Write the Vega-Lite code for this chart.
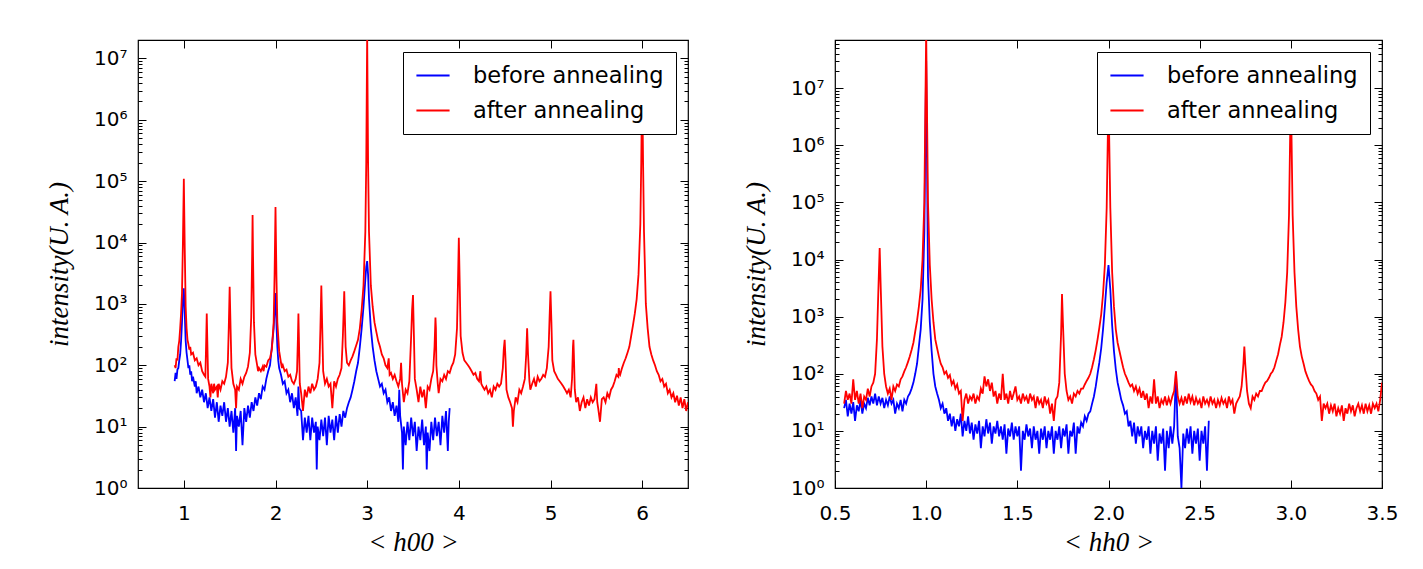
{
"$schema":"https://vega.github.io/schema/vega-lite/v6.json",
"background":"white",
"padding":{"left":44,"top":29,"right":10,"bottom":10},
"spacing":51,
"config":{
 "view":{"stroke":"#000","strokeWidth":1.2},
 "axis":{"domain":false,"grid":false,"tickColor":"#000","tickWidth":1,"labelFont":"DejaVu Sans","labelFontSize":20,"labelColor":"#000","labelFlush":false,"labelOverlap":false,"titleFont":"Liberation Serif","titleFontStyle":"italic","titleFontWeight":"normal","titleFontSize":27,"titleColor":"#000"},
 "legend":{"orient":"top-right","offset":12,"title":null,"labelFont":"DejaVu Sans","labelFontSize":22.5,"labelColor":"#000","labelLimit":0,"symbolType":"stroke","symbolStrokeWidth":2,"symbolSize":1100,"strokeColor":"#000","fillColor":"#fff","padding":12,"labelOffset":22,"rowPadding":12,"clipHeight":23,"cornerRadius":0}
},
"resolve":{"legend":{"color":"independent"}},
"datasets":{
"aL":[{"h":0.90,"i":100},{"h":0.91,"i":90},{"h":0.92,"i":130},{"h":0.93,"i":120},{"h":0.94,"i":200},{"h":0.95,"i":250},{"h":0.96,"i":400},{"h":0.97,"i":700},{"h":0.98,"i":1500},{"h":0.99,"i":10000},{"h":1.0,"i":110000},{"h":1.01,"i":8000},{"h":1.02,"i":900},{"h":1.03,"i":400},{"h":1.04,"i":260},{"h":1.05,"i":220},{"h":1.06,"i":180},{"h":1.07,"i":200},{"h":1.08,"i":150},{"h":1.10,"i":160},{"h":1.12,"i":120},{"h":1.14,"i":130},{"h":1.16,"i":100},{"h":1.18,"i":110},{"h":1.20,"i":80},{"h":1.22,"i":70},{"h":1.235,"i":65},{"h":1.245,"i":300},{"h":1.25,"i":700},{"h":1.255,"i":300},{"h":1.265,"i":60},{"h":1.28,"i":45},{"h":1.29,"i":30},{"h":1.30,"i":50},{"h":1.32,"i":35},{"h":1.33,"i":50},{"h":1.34,"i":40},{"h":1.36,"i":45},{"h":1.37,"i":30},{"h":1.38,"i":50},{"h":1.40,"i":40},{"h":1.42,"i":55},{"h":1.44,"i":50},{"h":1.46,"i":65},{"h":1.48,"i":110},{"h":1.49,"i":400},{"h":1.50,"i":1900},{"h":1.51,"i":400},{"h":1.52,"i":90},{"h":1.54,"i":50},{"h":1.56,"i":40},{"h":1.57,"i":20},{"h":1.58,"i":45},{"h":1.60,"i":40},{"h":1.62,"i":60},{"h":1.64,"i":50},{"h":1.66,"i":65},{"h":1.68,"i":75},{"h":1.70,"i":95},{"h":1.72,"i":160},{"h":1.735,"i":600},{"h":1.745,"i":6000},{"h":1.75,"i":28000},{"h":1.755,"i":6000},{"h":1.765,"i":500},{"h":1.78,"i":150},{"h":1.80,"i":100},{"h":1.81,"i":80},{"h":1.82,"i":90},{"h":1.84,"i":80},{"h":1.86,"i":95},{"h":1.87,"i":80},{"h":1.88,"i":100},{"h":1.90,"i":95},{"h":1.92,"i":120},{"h":1.94,"i":130},{"h":1.96,"i":180},{"h":1.98,"i":500},{"h":1.99,"i":3000},{"h":2.0,"i":38000},{"h":2.01,"i":3000},{"h":2.02,"i":500},{"h":2.04,"i":170},{"h":2.06,"i":110},{"h":2.07,"i":90},{"h":2.08,"i":100},{"h":2.10,"i":80},{"h":2.12,"i":85},{"h":2.14,"i":65},{"h":2.16,"i":70},{"h":2.18,"i":55},{"h":2.20,"i":50},{"h":2.22,"i":60},{"h":2.235,"i":80},{"h":2.245,"i":300},{"h":2.25,"i":700},{"h":2.255,"i":300},{"h":2.265,"i":50},{"h":2.28,"i":35},{"h":2.30,"i":18},{"h":2.32,"i":40},{"h":2.34,"i":30},{"h":2.36,"i":45},{"h":2.38,"i":35},{"h":2.40,"i":50},{"h":2.42,"i":40},{"h":2.44,"i":45},{"h":2.46,"i":60},{"h":2.48,"i":110},{"h":2.49,"i":400},{"h":2.50,"i":2000},{"h":2.51,"i":400},{"h":2.52,"i":80},{"h":2.54,"i":50},{"h":2.56,"i":60},{"h":2.58,"i":45},{"h":2.60,"i":50},{"h":2.62,"i":20},{"h":2.64,"i":55},{"h":2.66,"i":45},{"h":2.68,"i":60},{"h":2.70,"i":70},{"h":2.72,"i":90},{"h":2.735,"i":300},{"h":2.745,"i":900},{"h":2.75,"i":1600},{"h":2.755,"i":800},{"h":2.765,"i":200},{"h":2.78,"i":110},{"h":2.80,"i":100},{"h":2.82,"i":120},{"h":2.84,"i":140},{"h":2.86,"i":170},{"h":2.88,"i":210},{"h":2.90,"i":260},{"h":2.92,"i":400},{"h":2.94,"i":800},{"h":2.96,"i":2000},{"h":2.98,"i":15000},{"h":2.99,"i":200000},{"h":3.0,"i":25000000},{"h":3.01,"i":200000},{"h":3.02,"i":15000},{"h":3.04,"i":2000},{"h":3.06,"i":900},{"h":3.08,"i":500},{"h":3.10,"i":350},{"h":3.12,"i":250},{"h":3.14,"i":200},{"h":3.16,"i":150},{"h":3.18,"i":130},{"h":3.20,"i":100},{"h":3.22,"i":90},{"h":3.235,"i":130},{"h":3.245,"i":70},{"h":3.26,"i":75},{"h":3.28,"i":60},{"h":3.30,"i":70},{"h":3.32,"i":55},{"h":3.34,"i":45},{"h":3.36,"i":60},{"h":3.37,"i":110},{"h":3.38,"i":50},{"h":3.40,"i":25},{"h":3.42,"i":40},{"h":3.44,"i":35},{"h":3.46,"i":55},{"h":3.48,"i":300},{"h":3.49,"i":800},{"h":3.50,"i":1400},{"h":3.51,"i":300},{"h":3.52,"i":60},{"h":3.54,"i":40},{"h":3.56,"i":25},{"h":3.58,"i":45},{"h":3.60,"i":30},{"h":3.62,"i":40},{"h":3.64,"i":20},{"h":3.66,"i":45},{"h":3.68,"i":40},{"h":3.70,"i":60},{"h":3.72,"i":80},{"h":3.735,"i":200},{"h":3.745,"i":600},{"h":3.75,"i":400},{"h":3.755,"i":100},{"h":3.77,"i":50},{"h":3.78,"i":35},{"h":3.80,"i":60},{"h":3.82,"i":55},{"h":3.84,"i":70},{"h":3.86,"i":60},{"h":3.88,"i":80},{"h":3.90,"i":75},{"h":3.92,"i":95},{"h":3.94,"i":110},{"h":3.96,"i":150},{"h":3.98,"i":400},{"h":3.99,"i":2000},{"h":4.0,"i":12000},{"h":4.01,"i":2000},{"h":4.02,"i":300},{"h":4.04,"i":160},{"h":4.06,"i":120},{"h":4.08,"i":110},{"h":4.10,"i":100},{"h":4.12,"i":90},{"h":4.14,"i":80},{"h":4.16,"i":70},{"h":4.18,"i":75},{"h":4.20,"i":60},{"h":4.22,"i":55},{"h":4.235,"i":80},{"h":4.245,"i":50},{"h":4.26,"i":45},{"h":4.28,"i":40},{"h":4.30,"i":45},{"h":4.32,"i":35},{"h":4.34,"i":40},{"h":4.36,"i":30},{"h":4.38,"i":45},{"h":4.40,"i":40},{"h":4.42,"i":50},{"h":4.44,"i":45},{"h":4.46,"i":50},{"h":4.48,"i":90},{"h":4.49,"i":180},{"h":4.50,"i":260},{"h":4.51,"i":120},{"h":4.52,"i":40},{"h":4.54,"i":30},{"h":4.56,"i":25},{"h":4.58,"i":20},{"h":4.59,"i":10},{"h":4.60,"i":18},{"h":4.62,"i":30},{"h":4.64,"i":25},{"h":4.66,"i":40},{"h":4.68,"i":35},{"h":4.70,"i":45},{"h":4.72,"i":60},{"h":4.735,"i":150},{"h":4.745,"i":400},{"h":4.755,"i":150},{"h":4.77,"i":55},{"h":4.78,"i":40},{"h":4.80,"i":50},{"h":4.82,"i":60},{"h":4.84,"i":45},{"h":4.86,"i":65},{"h":4.88,"i":55},{"h":4.90,"i":60},{"h":4.92,"i":70},{"h":4.94,"i":65},{"h":4.96,"i":90},{"h":4.98,"i":200},{"h":4.99,"i":600},{"h":5.0,"i":1600},{"h":5.01,"i":500},{"h":5.02,"i":120},{"h":5.04,"i":80},{"h":5.06,"i":70},{"h":5.08,"i":60},{"h":5.10,"i":55},{"h":5.12,"i":50},{"h":5.14,"i":45},{"h":5.16,"i":40},{"h":5.18,"i":35},{"h":5.20,"i":40},{"h":5.22,"i":30},{"h":5.235,"i":60},{"h":5.245,"i":200},{"h":5.25,"i":260},{"h":5.255,"i":150},{"h":5.265,"i":40},{"h":5.28,"i":25},{"h":5.30,"i":30},{"h":5.32,"i":18},{"h":5.34,"i":25},{"h":5.36,"i":30},{"h":5.38,"i":20},{"h":5.40,"i":28},{"h":5.42,"i":22},{"h":5.44,"i":30},{"h":5.46,"i":25},{"h":5.48,"i":28},{"h":5.50,"i":50},{"h":5.51,"i":25},{"h":5.52,"i":20},{"h":5.54,"i":12},{"h":5.56,"i":28},{"h":5.58,"i":30},{"h":5.60,"i":25},{"h":5.62,"i":35},{"h":5.64,"i":30},{"h":5.66,"i":40},{"h":5.68,"i":45},{"h":5.70,"i":55},{"h":5.72,"i":70},{"h":5.74,"i":65},{"h":5.745,"i":90},{"h":5.75,"i":75},{"h":5.76,"i":70},{"h":5.78,"i":90},{"h":5.80,"i":110},{"h":5.82,"i":130},{"h":5.84,"i":160},{"h":5.86,"i":200},{"h":5.88,"i":300},{"h":5.90,"i":450},{"h":5.92,"i":700},{"h":5.94,"i":1200},{"h":5.96,"i":3000},{"h":5.98,"i":20000},{"h":5.99,"i":200000},{"h":6.0,"i":5000000},{"h":6.01,"i":200000},{"h":6.02,"i":15000},{"h":6.04,"i":1000},{"h":6.06,"i":400},{"h":6.08,"i":200},{"h":6.10,"i":150},{"h":6.12,"i":120},{"h":6.14,"i":100},{"h":6.16,"i":80},{"h":6.18,"i":70},{"h":6.20,"i":55},{"h":6.22,"i":60},{"h":6.24,"i":45},{"h":6.26,"i":50},{"h":6.28,"i":35},{"h":6.30,"i":40},{"h":6.32,"i":30},{"h":6.34,"i":35},{"h":6.36,"i":25},{"h":6.38,"i":32},{"h":6.40,"i":22},{"h":6.42,"i":30},{"h":6.44,"i":20},{"h":6.46,"i":28},{"h":6.48,"i":18},{"h":6.50,"i":25}],
"bL":[{"h":0.90,"i":55},{"h":0.91,"i":75},{"h":0.92,"i":60},{"h":0.93,"i":85},{"h":0.94,"i":90},{"h":0.95,"i":120},{"h":0.96,"i":150},{"h":0.97,"i":250},{"h":0.98,"i":500},{"h":0.99,"i":1200},{"h":1.0,"i":1800},{"h":1.01,"i":700},{"h":1.02,"i":250},{"h":1.03,"i":160},{"h":1.04,"i":120},{"h":1.05,"i":90},{"h":1.06,"i":100},{"h":1.07,"i":70},{"h":1.08,"i":80},{"h":1.09,"i":55},{"h":1.10,"i":65},{"h":1.12,"i":45},{"h":1.13,"i":55},{"h":1.14,"i":35},{"h":1.16,"i":45},{"h":1.18,"i":30},{"h":1.20,"i":40},{"h":1.22,"i":25},{"h":1.24,"i":35},{"h":1.26,"i":20},{"h":1.28,"i":30},{"h":1.30,"i":18},{"h":1.32,"i":28},{"h":1.34,"i":14},{"h":1.36,"i":25},{"h":1.38,"i":12},{"h":1.40,"i":22},{"h":1.42,"i":15},{"h":1.44,"i":25},{"h":1.46,"i":12},{"h":1.48,"i":20},{"h":1.50,"i":10},{"h":1.52,"i":18},{"h":1.54,"i":8},{"h":1.56,"i":20},{"h":1.57,"i":4},{"h":1.58,"i":15},{"h":1.60,"i":10},{"h":1.62,"i":18},{"h":1.64,"i":5},{"h":1.66,"i":20},{"h":1.68,"i":12},{"h":1.70,"i":22},{"h":1.72,"i":14},{"h":1.74,"i":25},{"h":1.76,"i":18},{"h":1.78,"i":30},{"h":1.80,"i":22},{"h":1.82,"i":35},{"h":1.84,"i":28},{"h":1.86,"i":45},{"h":1.88,"i":40},{"h":1.90,"i":60},{"h":1.92,"i":80},{"h":1.94,"i":100},{"h":1.96,"i":200},{"h":1.98,"i":400},{"h":1.99,"i":800},{"h":2.0,"i":1500},{"h":2.01,"i":500},{"h":2.02,"i":200},{"h":2.03,"i":120},{"h":2.04,"i":90},{"h":2.06,"i":70},{"h":2.08,"i":50},{"h":2.10,"i":55},{"h":2.12,"i":35},{"h":2.14,"i":40},{"h":2.16,"i":25},{"h":2.18,"i":35},{"h":2.20,"i":20},{"h":2.22,"i":30},{"h":2.24,"i":15},{"h":2.25,"i":45},{"h":2.26,"i":20},{"h":2.28,"i":18},{"h":2.30,"i":6},{"h":2.32,"i":14},{"h":2.34,"i":8},{"h":2.36,"i":15},{"h":2.38,"i":6},{"h":2.40,"i":14},{"h":2.42,"i":8},{"h":2.44,"i":12},{"h":2.45,"i":2},{"h":2.46,"i":10},{"h":2.48,"i":6},{"h":2.50,"i":13},{"h":2.52,"i":7},{"h":2.54,"i":14},{"h":2.56,"i":5},{"h":2.58,"i":15},{"h":2.60,"i":8},{"h":2.62,"i":13},{"h":2.64,"i":6},{"h":2.66,"i":15},{"h":2.68,"i":8},{"h":2.70,"i":16},{"h":2.72,"i":10},{"h":2.74,"i":18},{"h":2.76,"i":14},{"h":2.78,"i":20},{"h":2.80,"i":25},{"h":2.82,"i":30},{"h":2.84,"i":40},{"h":2.86,"i":55},{"h":2.88,"i":80},{"h":2.90,"i":110},{"h":2.92,"i":200},{"h":2.94,"i":400},{"h":2.96,"i":900},{"h":2.98,"i":2500},{"h":2.99,"i":4000},{"h":3.0,"i":5000},{"h":3.01,"i":3000},{"h":3.02,"i":1200},{"h":3.04,"i":400},{"h":3.06,"i":200},{"h":3.08,"i":120},{"h":3.10,"i":80},{"h":3.12,"i":60},{"h":3.14,"i":45},{"h":3.16,"i":50},{"h":3.18,"i":35},{"h":3.20,"i":40},{"h":3.22,"i":25},{"h":3.24,"i":30},{"h":3.26,"i":18},{"h":3.28,"i":25},{"h":3.30,"i":15},{"h":3.32,"i":22},{"h":3.34,"i":12},{"h":3.35,"i":40},{"h":3.36,"i":15},{"h":3.38,"i":8},{"h":3.39,"i":2},{"h":3.40,"i":10},{"h":3.42,"i":5},{"h":3.44,"i":12},{"h":3.46,"i":6},{"h":3.48,"i":14},{"h":3.50,"i":7},{"h":3.52,"i":12},{"h":3.54,"i":4},{"h":3.56,"i":10},{"h":3.58,"i":6},{"h":3.60,"i":13},{"h":3.62,"i":5},{"h":3.64,"i":10},{"h":3.65,"i":2},{"h":3.66,"i":8},{"h":3.68,"i":4},{"h":3.70,"i":12},{"h":3.72,"i":6},{"h":3.74,"i":14},{"h":3.76,"i":7},{"h":3.78,"i":12},{"h":3.80,"i":5},{"h":3.82,"i":15},{"h":3.84,"i":8},{"h":3.86,"i":18},{"h":3.88,"i":4},{"h":3.89,"i":12},{"h":3.90,"i":20}],
"aR":[{"h":0.55,"i":30},{"h":0.56,"i":50},{"h":0.57,"i":35},{"h":0.58,"i":45},{"h":0.59,"i":30},{"h":0.60,"i":80},{"h":0.61,"i":35},{"h":0.62,"i":50},{"h":0.63,"i":30},{"h":0.64,"i":45},{"h":0.65,"i":25},{"h":0.66,"i":40},{"h":0.67,"i":35},{"h":0.68,"i":55},{"h":0.69,"i":40},{"h":0.70,"i":60},{"h":0.71,"i":70},{"h":0.72,"i":100},{"h":0.73,"i":400},{"h":0.74,"i":5000},{"h":0.745,"i":16000},{"h":0.75,"i":4000},{"h":0.76,"i":300},{"h":0.77,"i":100},{"h":0.78,"i":60},{"h":0.79,"i":45},{"h":0.80,"i":55},{"h":0.81,"i":35},{"h":0.82,"i":60},{"h":0.83,"i":50},{"h":0.84,"i":65},{"h":0.85,"i":60},{"h":0.86,"i":80},{"h":0.87,"i":90},{"h":0.88,"i":110},{"h":0.89,"i":130},{"h":0.90,"i":160},{"h":0.91,"i":200},{"h":0.92,"i":260},{"h":0.93,"i":350},{"h":0.94,"i":550},{"h":0.95,"i":850},{"h":0.96,"i":1500},{"h":0.97,"i":3000},{"h":0.98,"i":10000},{"h":0.99,"i":100000},{"h":1.0,"i":100000000},{"h":1.01,"i":100000},{"h":1.02,"i":8000},{"h":1.03,"i":2000},{"h":1.04,"i":800},{"h":1.05,"i":400},{"h":1.06,"i":280},{"h":1.07,"i":200},{"h":1.08,"i":150},{"h":1.09,"i":130},{"h":1.10,"i":100},{"h":1.11,"i":110},{"h":1.12,"i":85},{"h":1.13,"i":95},{"h":1.14,"i":65},{"h":1.15,"i":75},{"h":1.16,"i":55},{"h":1.17,"i":65},{"h":1.18,"i":45},{"h":1.19,"i":50},{"h":1.20,"i":15},{"h":1.21,"i":35},{"h":1.22,"i":45},{"h":1.23,"i":30},{"h":1.24,"i":40},{"h":1.25,"i":35},{"h":1.26,"i":45},{"h":1.27,"i":30},{"h":1.28,"i":40},{"h":1.29,"i":35},{"h":1.30,"i":55},{"h":1.31,"i":45},{"h":1.32,"i":90},{"h":1.33,"i":60},{"h":1.34,"i":80},{"h":1.35,"i":50},{"h":1.36,"i":70},{"h":1.37,"i":40},{"h":1.38,"i":50},{"h":1.39,"i":30},{"h":1.40,"i":45},{"h":1.41,"i":35},{"h":1.42,"i":100},{"h":1.43,"i":35},{"h":1.44,"i":45},{"h":1.45,"i":30},{"h":1.46,"i":50},{"h":1.47,"i":35},{"h":1.48,"i":45},{"h":1.49,"i":60},{"h":1.50,"i":35},{"h":1.51,"i":40},{"h":1.52,"i":30},{"h":1.53,"i":45},{"h":1.54,"i":35},{"h":1.55,"i":40},{"h":1.56,"i":30},{"h":1.57,"i":45},{"h":1.58,"i":35},{"h":1.59,"i":40},{"h":1.60,"i":25},{"h":1.61,"i":40},{"h":1.62,"i":30},{"h":1.63,"i":35},{"h":1.64,"i":25},{"h":1.65,"i":40},{"h":1.66,"i":30},{"h":1.67,"i":35},{"h":1.68,"i":20},{"h":1.69,"i":30},{"h":1.70,"i":15},{"h":1.71,"i":35},{"h":1.72,"i":40},{"h":1.73,"i":70},{"h":1.74,"i":500},{"h":1.745,"i":2500},{"h":1.75,"i":800},{"h":1.76,"i":100},{"h":1.77,"i":50},{"h":1.78,"i":35},{"h":1.79,"i":40},{"h":1.80,"i":30},{"h":1.81,"i":45},{"h":1.82,"i":40},{"h":1.83,"i":50},{"h":1.84,"i":45},{"h":1.85,"i":55},{"h":1.86,"i":55},{"h":1.87,"i":65},{"h":1.88,"i":75},{"h":1.89,"i":85},{"h":1.90,"i":100},{"h":1.91,"i":130},{"h":1.92,"i":180},{"h":1.93,"i":260},{"h":1.94,"i":400},{"h":1.95,"i":650},{"h":1.96,"i":1100},{"h":1.97,"i":2500},{"h":1.98,"i":8000},{"h":1.99,"i":80000},{"h":2.0,"i":8000000},{"h":2.01,"i":80000},{"h":2.02,"i":6000},{"h":2.03,"i":1500},{"h":2.04,"i":600},{"h":2.05,"i":350},{"h":2.06,"i":250},{"h":2.07,"i":180},{"h":2.08,"i":130},{"h":2.09,"i":100},{"h":2.10,"i":85},{"h":2.11,"i":70},{"h":2.12,"i":60},{"h":2.13,"i":65},{"h":2.14,"i":50},{"h":2.15,"i":60},{"h":2.16,"i":45},{"h":2.17,"i":55},{"h":2.18,"i":38},{"h":2.19,"i":50},{"h":2.20,"i":35},{"h":2.21,"i":45},{"h":2.22,"i":25},{"h":2.23,"i":40},{"h":2.24,"i":30},{"h":2.25,"i":80},{"h":2.26,"i":30},{"h":2.27,"i":40},{"h":2.28,"i":25},{"h":2.29,"i":35},{"h":2.30,"i":30},{"h":2.31,"i":40},{"h":2.32,"i":28},{"h":2.33,"i":38},{"h":2.34,"i":30},{"h":2.35,"i":40},{"h":2.36,"i":50},{"h":2.37,"i":110},{"h":2.38,"i":40},{"h":2.39,"i":30},{"h":2.40,"i":38},{"h":2.41,"i":28},{"h":2.42,"i":40},{"h":2.43,"i":30},{"h":2.44,"i":45},{"h":2.45,"i":32},{"h":2.46,"i":40},{"h":2.47,"i":28},{"h":2.48,"i":38},{"h":2.49,"i":30},{"h":2.50,"i":35},{"h":2.51,"i":25},{"h":2.52,"i":40},{"h":2.53,"i":30},{"h":2.54,"i":35},{"h":2.55,"i":28},{"h":2.56,"i":40},{"h":2.57,"i":30},{"h":2.58,"i":35},{"h":2.59,"i":25},{"h":2.60,"i":35},{"h":2.61,"i":28},{"h":2.62,"i":38},{"h":2.63,"i":30},{"h":2.64,"i":35},{"h":2.65,"i":25},{"h":2.66,"i":40},{"h":2.67,"i":30},{"h":2.68,"i":35},{"h":2.69,"i":20},{"h":2.70,"i":30},{"h":2.71,"i":35},{"h":2.72,"i":40},{"h":2.73,"i":60},{"h":2.74,"i":150},{"h":2.745,"i":300},{"h":2.75,"i":150},{"h":2.76,"i":50},{"h":2.77,"i":30},{"h":2.78,"i":25},{"h":2.79,"i":40},{"h":2.80,"i":35},{"h":2.81,"i":45},{"h":2.82,"i":40},{"h":2.83,"i":50},{"h":2.84,"i":50},{"h":2.85,"i":60},{"h":2.86,"i":70},{"h":2.87,"i":75},{"h":2.88,"i":85},{"h":2.89,"i":100},{"h":2.90,"i":110},{"h":2.91,"i":130},{"h":2.92,"i":170},{"h":2.93,"i":220},{"h":2.94,"i":320},{"h":2.95,"i":450},{"h":2.96,"i":800},{"h":2.97,"i":1800},{"h":2.98,"i":6000},{"h":2.99,"i":60000},{"h":3.0,"i":10000000},{"h":3.01,"i":60000},{"h":3.02,"i":6000},{"h":3.03,"i":1500},{"h":3.04,"i":600},{"h":3.05,"i":300},{"h":3.06,"i":200},{"h":3.07,"i":150},{"h":3.08,"i":110},{"h":3.09,"i":90},{"h":3.10,"i":75},{"h":3.11,"i":65},{"h":3.12,"i":60},{"h":3.13,"i":50},{"h":3.14,"i":45},{"h":3.15,"i":35},{"h":3.16,"i":40},{"h":3.17,"i":15},{"h":3.18,"i":30},{"h":3.19,"i":25},{"h":3.20,"i":30},{"h":3.21,"i":20},{"h":3.22,"i":28},{"h":3.23,"i":22},{"h":3.24,"i":30},{"h":3.25,"i":18},{"h":3.26,"i":25},{"h":3.27,"i":20},{"h":3.28,"i":28},{"h":3.29,"i":15},{"h":3.30,"i":25},{"h":3.31,"i":20},{"h":3.32,"i":30},{"h":3.33,"i":22},{"h":3.34,"i":28},{"h":3.35,"i":18},{"h":3.36,"i":25},{"h":3.37,"i":30},{"h":3.38,"i":22},{"h":3.39,"i":28},{"h":3.40,"i":20},{"h":3.41,"i":30},{"h":3.42,"i":22},{"h":3.43,"i":28},{"h":3.44,"i":20},{"h":3.45,"i":30},{"h":3.46,"i":25},{"h":3.47,"i":30},{"h":3.48,"i":22},{"h":3.49,"i":35},{"h":3.50,"i":70}],
"bR":[{"h":0.55,"i":25},{"h":0.56,"i":35},{"h":0.57,"i":18},{"h":0.58,"i":30},{"h":0.59,"i":20},{"h":0.60,"i":32},{"h":0.61,"i":15},{"h":0.62,"i":28},{"h":0.63,"i":22},{"h":0.64,"i":35},{"h":0.65,"i":20},{"h":0.66,"i":30},{"h":0.67,"i":25},{"h":0.68,"i":38},{"h":0.69,"i":28},{"h":0.70,"i":40},{"h":0.71,"i":30},{"h":0.72,"i":45},{"h":0.73,"i":28},{"h":0.74,"i":40},{"h":0.75,"i":30},{"h":0.76,"i":38},{"h":0.77,"i":25},{"h":0.78,"i":35},{"h":0.79,"i":28},{"h":0.80,"i":40},{"h":0.81,"i":30},{"h":0.82,"i":35},{"h":0.83,"i":20},{"h":0.84,"i":30},{"h":0.85,"i":25},{"h":0.86,"i":35},{"h":0.87,"i":22},{"h":0.88,"i":35},{"h":0.89,"i":30},{"h":0.90,"i":40},{"h":0.91,"i":45},{"h":0.92,"i":55},{"h":0.93,"i":70},{"h":0.94,"i":100},{"h":0.95,"i":150},{"h":0.96,"i":300},{"h":0.97,"i":600},{"h":0.98,"i":2000},{"h":0.99,"i":30000},{"h":1.0,"i":30000000},{"h":1.01,"i":5000},{"h":1.02,"i":800},{"h":1.03,"i":250},{"h":1.04,"i":100},{"h":1.05,"i":60},{"h":1.06,"i":45},{"h":1.07,"i":35},{"h":1.08,"i":25},{"h":1.09,"i":30},{"h":1.10,"i":20},{"h":1.11,"i":25},{"h":1.12,"i":15},{"h":1.13,"i":20},{"h":1.14,"i":12},{"h":1.15,"i":18},{"h":1.16,"i":10},{"h":1.17,"i":16},{"h":1.18,"i":12},{"h":1.19,"i":20},{"h":1.20,"i":8},{"h":1.21,"i":15},{"h":1.22,"i":10},{"h":1.23,"i":18},{"h":1.24,"i":9},{"h":1.25,"i":14},{"h":1.26,"i":7},{"h":1.27,"i":13},{"h":1.28,"i":9},{"h":1.29,"i":15},{"h":1.30,"i":5},{"h":1.31,"i":12},{"h":1.32,"i":8},{"h":1.33,"i":16},{"h":1.34,"i":9},{"h":1.35,"i":14},{"h":1.36,"i":6},{"h":1.37,"i":12},{"h":1.38,"i":9},{"h":1.39,"i":15},{"h":1.40,"i":8},{"h":1.41,"i":12},{"h":1.42,"i":7},{"h":1.43,"i":13},{"h":1.44,"i":4},{"h":1.45,"i":11},{"h":1.46,"i":8},{"h":1.47,"i":14},{"h":1.48,"i":7},{"h":1.49,"i":12},{"h":1.50,"i":8},{"h":1.51,"i":12},{"h":1.52,"i":2},{"h":1.53,"i":10},{"h":1.54,"i":7},{"h":1.55,"i":13},{"h":1.56,"i":8},{"h":1.57,"i":11},{"h":1.58,"i":5},{"h":1.59,"i":12},{"h":1.60,"i":7},{"h":1.61,"i":10},{"h":1.62,"i":4},{"h":1.63,"i":11},{"h":1.64,"i":7},{"h":1.65,"i":12},{"h":1.66,"i":5},{"h":1.67,"i":10},{"h":1.68,"i":7},{"h":1.69,"i":12},{"h":1.70,"i":4},{"h":1.71,"i":10},{"h":1.72,"i":7},{"h":1.73,"i":12},{"h":1.74,"i":5},{"h":1.75,"i":11},{"h":1.76,"i":8},{"h":1.77,"i":13},{"h":1.78,"i":4},{"h":1.79,"i":10},{"h":1.80,"i":8},{"h":1.81,"i":14},{"h":1.82,"i":4},{"h":1.83,"i":12},{"h":1.84,"i":9},{"h":1.85,"i":14},{"h":1.86,"i":12},{"h":1.87,"i":18},{"h":1.88,"i":15},{"h":1.89,"i":20},{"h":1.90,"i":22},{"h":1.91,"i":30},{"h":1.92,"i":40},{"h":1.93,"i":60},{"h":1.94,"i":100},{"h":1.95,"i":160},{"h":1.96,"i":280},{"h":1.97,"i":600},{"h":1.98,"i":1500},{"h":1.99,"i":4000},{"h":2.0,"i":8000},{"h":2.01,"i":3000},{"h":2.02,"i":700},{"h":2.03,"i":250},{"h":2.04,"i":120},{"h":2.05,"i":70},{"h":2.06,"i":50},{"h":2.07,"i":35},{"h":2.08,"i":28},{"h":2.09,"i":20},{"h":2.10,"i":22},{"h":2.11,"i":12},{"h":2.12,"i":15},{"h":2.13,"i":8},{"h":2.14,"i":14},{"h":2.15,"i":6},{"h":2.16,"i":12},{"h":2.17,"i":8},{"h":2.18,"i":12},{"h":2.19,"i":5},{"h":2.20,"i":10},{"h":2.21,"i":7},{"h":2.22,"i":12},{"h":2.23,"i":4},{"h":2.24,"i":10},{"h":2.25,"i":6},{"h":2.26,"i":12},{"h":2.27,"i":3},{"h":2.28,"i":9},{"h":2.29,"i":6},{"h":2.30,"i":11},{"h":2.31,"i":2},{"h":2.32,"i":10},{"h":2.33,"i":5},{"h":2.34,"i":12},{"h":2.35,"i":6},{"h":2.36,"i":12},{"h":2.37,"i":110},{"h":2.38,"i":8},{"h":2.39,"i":5},{"h":2.40,"i":1},{"h":2.41,"i":9},{"h":2.42,"i":5},{"h":2.43,"i":11},{"h":2.44,"i":6},{"h":2.45,"i":12},{"h":2.46,"i":4},{"h":2.47,"i":10},{"h":2.48,"i":6},{"h":2.49,"i":11},{"h":2.50,"i":3},{"h":2.51,"i":10},{"h":2.52,"i":6},{"h":2.53,"i":12},{"h":2.54,"i":2},{"h":2.55,"i":15}]
},
"hconcat":[
 {"width":550,"height":448,
  "layer":[
   {"data":{"name":"bL"},"mark":{"type":"line","clip":true,"strokeWidth":1.8},
    "encoding":{
     "x":{"field":"h","type":"quantitative","scale":{"domain":[0.5,6.5],"nice":false,"zero":false},"axis":{"orient":"bottom","values":[1,2,3,4,5,6],"tickSize":-8,"labelPadding":23,"title":"< h00 >","titlePadding":6}},
     "y":{"field":"i","type":"quantitative","scale":{"type":"log","domain":[1,20000000],"nice":false},"axis":{"orient":"left","values":[1,2,3,4,5,6,7,8,9,10,20,30,40,50,60,70,80,90,100,200,300,400,500,600,700,800,900,1000,2000,3000,4000,5000,6000,7000,8000,9000,10000,20000,30000,40000,50000,60000,70000,80000,90000,100000,200000,300000,400000,500000,600000,700000,800000,900000,1000000,2000000,3000000,4000000,5000000,6000000,7000000,8000000,9000000,10000000,20000000],"tickSize":{"condition":{"test":"abs(log(datum.value)/LN10-round(log(datum.value)/LN10))<0.001","value":-8},"value":-4},"labelExpr":"abs(log(datum.value)/LN10-round(log(datum.value)/LN10))<0.001 ? '10'+['⁰','¹','²','³','⁴','⁵','⁶','⁷'][round(log(datum.value)/LN10)] : ''","labelPadding":19,"title":"intensity(U. A.)","titlePadding":20}},
     "color":{"datum":"before annealing","type":"nominal","scale":{"domain":["before annealing","after annealing"],"range":["#0000ff","#ff0000"]}}
    }},
   {"data":{"name":"aL"},"mark":{"type":"line","clip":true,"strokeWidth":1.8},
    "encoding":{
     "x":{"field":"h","type":"quantitative","axis":{"orient":"top","values":[1,2,3,4,5,6],"tickSize":-8,"labels":false,"title":null}},
     "y":{"field":"i","type":"quantitative","axis":{"orient":"right","values":[1,2,3,4,5,6,7,8,9,10,20,30,40,50,60,70,80,90,100,200,300,400,500,600,700,800,900,1000,2000,3000,4000,5000,6000,7000,8000,9000,10000,20000,30000,40000,50000,60000,70000,80000,90000,100000,200000,300000,400000,500000,600000,700000,800000,900000,1000000,2000000,3000000,4000000,5000000,6000000,7000000,8000000,9000000,10000000,20000000],"tickSize":{"condition":{"test":"abs(log(datum.value)/LN10-round(log(datum.value)/LN10))<0.001","value":-8},"value":-4},"labels":false,"title":null}},
     "color":{"datum":"after annealing","type":"nominal"}
    }}
  ],
  "resolve":{"axis":{"x":"independent","y":"independent"}}
 },
 {"width":547,"height":448,
  "layer":[
   {"data":{"name":"bR"},"mark":{"type":"line","clip":true,"strokeWidth":1.8},
    "encoding":{
     "x":{"field":"h","type":"quantitative","scale":{"domain":[0.5,3.5],"nice":false,"zero":false},"axis":{"orient":"bottom","values":[0.5,1,1.5,2,2.5,3,3.5],"format":".1f","tickSize":-8,"labelPadding":23,"title":"< hh0 >","titlePadding":6}},
     "y":{"field":"i","type":"quantitative","scale":{"type":"log","domain":[1,70000000],"nice":false},"axis":{"orient":"left","values":[1,2,3,4,5,6,7,8,9,10,20,30,40,50,60,70,80,90,100,200,300,400,500,600,700,800,900,1000,2000,3000,4000,5000,6000,7000,8000,9000,10000,20000,30000,40000,50000,60000,70000,80000,90000,100000,200000,300000,400000,500000,600000,700000,800000,900000,1000000,2000000,3000000,4000000,5000000,6000000,7000000,8000000,9000000,10000000,20000000,30000000,40000000,50000000,60000000,70000000],"tickSize":{"condition":{"test":"abs(log(datum.value)/LN10-round(log(datum.value)/LN10))<0.001","value":-8},"value":-4},"labelExpr":"abs(log(datum.value)/LN10-round(log(datum.value)/LN10))<0.001 ? '10'+['⁰','¹','²','³','⁴','⁵','⁶','⁷'][round(log(datum.value)/LN10)] : ''","labelPadding":19,"title":"intensity(U. A.)","titlePadding":20}},
     "color":{"datum":"before annealing","type":"nominal","scale":{"domain":["before annealing","after annealing"],"range":["#0000ff","#ff0000"]}}
    }},
   {"data":{"name":"aR"},"mark":{"type":"line","clip":true,"strokeWidth":1.8},
    "encoding":{
     "x":{"field":"h","type":"quantitative","axis":{"orient":"top","values":[0.5,1,1.5,2,2.5,3,3.5],"tickSize":-8,"labels":false,"title":null}},
     "y":{"field":"i","type":"quantitative","axis":{"orient":"right","values":[1,2,3,4,5,6,7,8,9,10,20,30,40,50,60,70,80,90,100,200,300,400,500,600,700,800,900,1000,2000,3000,4000,5000,6000,7000,8000,9000,10000,20000,30000,40000,50000,60000,70000,80000,90000,100000,200000,300000,400000,500000,600000,700000,800000,900000,1000000,2000000,3000000,4000000,5000000,6000000,7000000,8000000,9000000,10000000,20000000,30000000,40000000,50000000,60000000,70000000],"tickSize":{"condition":{"test":"abs(log(datum.value)/LN10-round(log(datum.value)/LN10))<0.001","value":-8},"value":-4},"labels":false,"title":null}},
     "color":{"datum":"after annealing","type":"nominal"}
    }}
  ],
  "resolve":{"axis":{"x":"independent","y":"independent"}}
 }
]
}
